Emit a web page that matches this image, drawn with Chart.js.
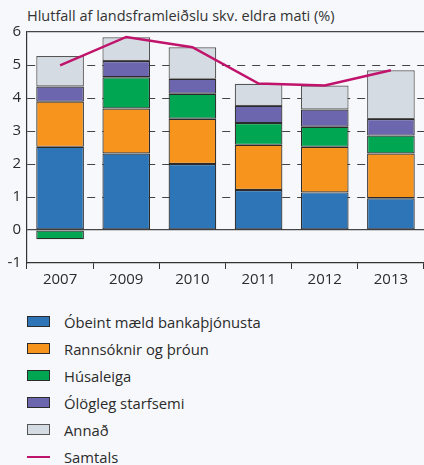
<!DOCTYPE html>
<html lang="is">
<head>
<meta charset="utf-8">
<script src="https://cdn.jsdelivr.net/npm/chart.js@4/dist/chart.umd.min.js"></script>
<style>
  html, body { margin: 0; padding: 0; }
  body {
    width: 424px;
    height: 465px;
    background: #f7f8fb;
    font-family: "Open Sans", sans-serif;
    color: #2b2b2b;
    position: relative;
    overflow: hidden;
  }
  .chart-title {
    position: absolute;
    left: 27px;
    top: 6px;
    font-size: 14.5px;
    line-height: 20px;
    color: #333;
    white-space: nowrap;
  }
  .chart-wrap {
    position: absolute;
    left: 0;
    top: 0;
    width: 424px;
    height: 293px;
  }
  .chart-legend {
    position: absolute;
    left: 27px;
    top: 308px;
  }
  .chart-legend-item {
    display: flex;
    align-items: center;
    height: 27px;
    font-size: 14.8px;
    white-space: nowrap;
  }
  .chart-legend-color {
    display: inline-block;
    width: 21px;
    height: 9px;
    border: 1px solid #333;
    margin-right: 14px;
  }
  .chart-legend-line {
    display: inline-block;
    width: 23px;
    height: 2px;
    margin-right: 14px;
  }
</style>
</head>
<body>
<div class="chart-title">Hlutfall af landsframleiðslu skv. eldra mati (%)</div>
<div class="chart-wrap"><canvas id="gdpChart" width="424" height="293"></canvas></div>
<div class="chart-legend"></div>
<script>
const years = ['2007', '2009', '2010', '2011', '2012', '2013'];

const obeint = [2.52, 2.32, 2.00, 1.21, 1.14, 0.96];
const rannsoknir = [1.37, 1.36, 1.37, 1.37, 1.38, 1.36];
const husaleiga = [-0.28, 0.95, 0.76, 0.66, 0.61, 0.54];
const ologleg = [0.46, 0.49, 0.45, 0.52, 0.52, 0.50];
const annad = [0.92, 0.72, 0.96, 0.67, 0.73, 1.48];
const samtals = [4.99, 5.85, 5.54, 4.44, 4.38, 4.84];

const yTicks = [-1, 0, 1, 2, 3, 4, 5, 6];

const colors = {
    blue: '#2e75b8',
    orange: '#f7941e',
    green: '#00a651',
    purple: '#6c66ae',
    grey: '#d5dbe3',
    line: '#c0146c'
};

function barSet(label, data, color, border) {
    return {
        type: 'bar',
        label: label,
        data: data,
        backgroundColor: color,
        borderColor: border || '#2b2b2b',
        borderWidth: 1.2,
        borderSkipped: false,
        stack: 'hlutar',
        order: 1,
        barPercentage: 0.72,
        categoryPercentage: 1
    };
}

const ctx = document.getElementById('gdpChart').getContext('2d');

const chart = new Chart(ctx, {
    data: {
        labels: years,
        datasets: [
            barSet('Óbeint mæld bankaþjónusta', obeint, colors.blue),
            barSet('Rannsóknir og þróun', rannsoknir, colors.orange),
            barSet('Húsaleiga', husaleiga, colors.green),
            barSet('Ólögleg starfsemi', ologleg, colors.purple),
            barSet('Annað', annad, colors.grey, '#555'),
            {
                type: 'line',
                label: 'Samtals',
                data: samtals,
                borderColor: colors.line,
                backgroundColor: colors.line,
                borderWidth: 2.5,
                pointRadius: 0,
                tension: 0,
                stack: 'samtals',
                order: 0
            }
        ]
    },
    options: {
        responsive: false,
        animation: false,
        layout: {
            padding: { top: 32, right: 0, bottom: 0, left: 0 }
        },
        plugins: {
            legend: { display: false },
            tooltip: { enabled: false }
        },
        scales: {
            x: {
                stacked: true,
                grid: {
                    offset: true,
                    drawOnChartArea: false,
                    drawTicks: true,
                    tickLength: 6,
                    color: '#333'
                },
                border: { color: '#333', width: 1.2 },
                ticks: {
                    color: '#2b2b2b',
                    font: { family: 'Open Sans', size: 15 },
                    padding: 2
                },
                afterFit: function(scale) { scale.height = 30; }
            },
            y: {
                stacked: true,
                min: -1,
                max: 6,
                afterBuildTicks: function(scale) {
                    scale.ticks = yTicks.map(v => ({ value: v }));
                },
                grid: {
                    drawTicks: false,
                    color: function(c) {
                        return c.tick && c.tick.value === -1 ? 'rgba(0,0,0,0)' : '#444';
                    },
                    lineWidth: function(c) {
                        return c.tick && (c.tick.value === 0 || c.tick.value === 6) ? 1.2 : 1;
                    }
                },
                border: {
                    color: '#333',
                    width: 1.2,
                    dash: function(c) {
                        if (!c.tick) return [];
                        return (c.tick.value === 0 || c.tick.value === 6) ? [] : [8, 7];
                    }
                },
                ticks: {
                    color: '#2b2b2b',
                    font: { family: 'Open Sans', size: 15 },
                    padding: 6
                },
                afterFit: function(scale) { scale.width = 27; }
            }
        }
    }
});

function createCustomLegend(chart) {
    const legend = document.querySelector('.chart-legend');
    let items = '';
    chart.data.datasets.forEach(ds => {
        const swatch = ds.type === 'line'
            ? `<span class="chart-legend-line" style="background-color: ${ds.borderColor}"></span>`
            : `<span class="chart-legend-color" style="background-color: ${ds.backgroundColor}; border-color: ${ds.borderColor}"></span>`;
        items += `<div class="chart-legend-item">${swatch}<span>${ds.label}</span></div>`;
    });
    legend.innerHTML = items;
}

createCustomLegend(chart);
</script>
</body>
</html>
